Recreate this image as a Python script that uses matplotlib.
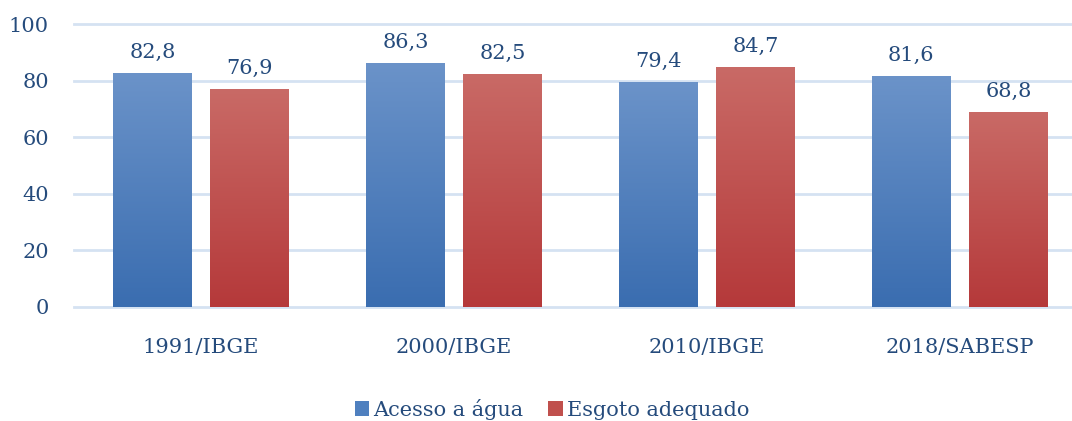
import numpy as np
import matplotlib
matplotlib.use("Agg")
import matplotlib.pyplot as plt
from matplotlib.colors import LinearSegmentedColormap
from matplotlib.patches import Patch

categories = ["1991/IBGE", "2000/IBGE", "2010/IBGE", "2018/SABESP"]
agua = [82.8, 86.3, 79.4, 81.6]
esgoto = [76.9, 82.5, 84.7, 68.8]
series_names = ["Acesso a água", "Esgoto adequado"]
yticks = [0, 20, 40, 60, 80, 100]

text_color = "#254b7c"
grid_color = "#d5e2f2"
blue_top, blue_bot = "#6b93c9", "#3a6db0"
red_top, red_bot = "#c96a66", "#b5393a"

plt.rcParams['font.family'] = ['DejaVu Serif']

fig = plt.figure(figsize=(10.72, 4.21), dpi=100)
ax = fig.add_axes([74/1072, 1 - 307/421, 1 - 74/1072, (307 - 24)/421])

x = np.arange(len(categories))
w = 0.312
off = 0.192

b1 = ax.bar(x - off, agua, w, color=blue_bot, zorder=2)
b2 = ax.bar(x + off, esgoto, w, color=red_bot, zorder=2)

def gradient(bars, top, bot):
    cmap = LinearSegmentedColormap.from_list("g", [bot, top])
    grad = np.linspace(0, 1, 256).reshape(-1, 1)
    for b in bars:
        x0, y0 = b.get_x(), b.get_y()
        x1, y1 = x0 + b.get_width(), y0 + b.get_height()
        im = ax.imshow(grad, extent=[x0, x1, y0, y1], origin='lower',
                       aspect='auto', cmap=cmap, zorder=3)
        im.set_clip_path(b)
        b.set_facecolor('none')

gradient(b1, blue_top, blue_bot)
gradient(b2, red_top, red_bot)

for bars, vals in ((b1, agua), (b2, esgoto)):
    for b, v in zip(bars, vals):
        ax.annotate(f"{v:.1f}".replace(".", ","),
                    (b.get_x() + b.get_width() / 2, v),
                    xytext=(0, 8), textcoords='offset points',
                    ha='center', va='bottom', fontsize=15, color=text_color)

ax.set_xlim(-0.502, 3.443)
ax.set_ylim(0, 100)
ax.set_yticks(yticks)
ax.set_xticks(x)
ax.set_xticklabels(categories)
ax.tick_params(axis='y', length=0, pad=18, labelsize=15, labelcolor=text_color)
ax.tick_params(axis='x', length=0, pad=22, labelsize=15, labelcolor=text_color)
for s in ax.spines.values():
    s.set_visible(False)
ax.yaxis.grid(True, color=grid_color, lw=2, zorder=0)
for gl in ax.get_ygridlines():
    gl.set_clip_on(False)
ax.set_axisbelow(True)

handles = [Patch(facecolor="#4f80bf", label=series_names[0]),
           Patch(facecolor="#c0504d", label=series_names[1])]
fig.legend(handles=handles, loc='center', bbox_to_anchor=(552/1072, 12/421),
           ncol=2, frameon=False, fontsize=15, handlelength=0.7, handleheight=0.7,
           handletextpad=0.2, columnspacing=1.2, labelcolor=text_color)

fig.savefig("out.png", dpi=100)
